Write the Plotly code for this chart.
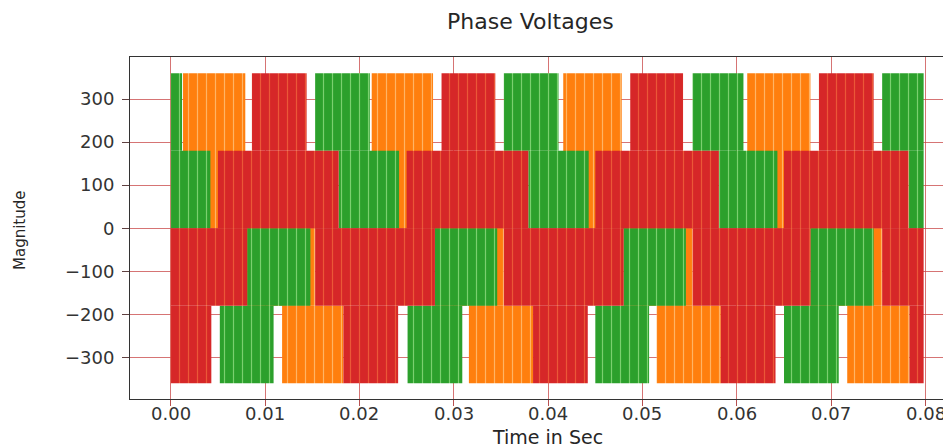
import plotly.graph_objects as go

# ---- data (time in s, voltage in V) ----
# each phase = list of PWM bands: start time, end time, lower level, upper level
orange_start = [0.0013, 0.0213, 0.0416, 0.0611,
                0.0081, 0.0280, 0.0480, 0.0678,
                0.0118, 0.0316, 0.0515, 0.0717]
orange_end   = [0.0079, 0.0278, 0.0478, 0.0678,
                0.0153, 0.0353, 0.0553, 0.0754,
                0.0183, 0.0384, 0.0583, 0.0783]
orange_low   = [0, 0, 0, 0,
                -180, -180, -180, -180,
                -360, -360, -360, -360]
orange_high  = [360, 360, 360, 360,
                0, 0, 0, 0,
                -180, -180, -180, -180]

green_start = [0.0000, 0.0153, 0.0353, 0.0553, 0.0754,
               0.0000, 0.0178, 0.0379, 0.0581, 0.0782,
               0.0081, 0.0280, 0.0480, 0.0678,
               0.0052, 0.0251, 0.0450, 0.0650]
green_end   = [0.0012, 0.0211, 0.0411, 0.0607, 0.0798,
               0.0042, 0.0242, 0.0443, 0.0643, 0.0798,
               0.0148, 0.0346, 0.0546, 0.0745,
               0.0109, 0.0309, 0.0507, 0.0708]
green_low   = [180, 180, 180, 180, 180,
               0, 0, 0, 0, 0,
               -180, -180, -180, -180,
               -360, -360, -360, -360]
green_high  = [360, 360, 360, 360, 360,
               180, 180, 180, 180, 180,
               0, 0, 0, 0,
               -180, -180, -180, -180]

red_start = [0.0086, 0.0287, 0.0487, 0.0687,
             0.0050, 0.0250, 0.0450, 0.0650,
             0.0000, 0.0153, 0.0353, 0.0553, 0.0754,
             0.0000, 0.0183, 0.0384, 0.0583, 0.0783]
red_end   = [0.0144, 0.0344, 0.0543, 0.0745,
             0.0178, 0.0379, 0.0581, 0.0782,
             0.0081, 0.0280, 0.0480, 0.0678, 0.0798,
             0.0043, 0.0241, 0.0442, 0.0641, 0.0798]
red_low   = [180, 180, 180, 180,
             0, 0, 0, 0,
             -180, -180, -180, -180, -180,
             -360, -360, -360, -360, -360]
red_high  = [360, 360, 360, 360,
             180, 180, 180, 180,
             0, 0, 0, 0, 0,
             -180, -180, -180, -180, -180]

x_ticks = [0.00, 0.01, 0.02, 0.03, 0.04, 0.05, 0.06, 0.07, 0.08]
y_ticks = [-300, -200, -100, 0, 100, 200, 300]

# name, fill colour, switching-streak colour
phases = [
    ("Phase A", "#ff7f0e", "#ffc27a", orange_start, orange_end, orange_low, orange_high),
    ("Phase B", "#2ca02c", "#8fdc7f", green_start, green_end, green_low, green_high),
    ("Phase C", "#d62728", "#f0643a", red_start, red_end, red_low, red_high),
]

fig = go.Figure()
for name, color, streak, s, e, lo, hi in phases:
    fig.add_trace(go.Bar(
        name=name,
        x=[(a + b) / 2 for a, b in zip(s, e)],
        width=[b - a for a, b in zip(s, e)],
        base=lo,
        y=[h - l for h, l in zip(hi, lo)],
        marker=dict(color=color, line=dict(width=0),
                    pattern=dict(shape="|", fgcolor=streak, bgcolor=color,
                                 size=9, solidity=0.13, fgopacity=0.8,
                                 fillmode="replace")),
        showlegend=False,
    ))

# the page body has an 8 px default margin, so the figure is drawn 8 px in
OFF = 8
W, H = 951 - OFF, 448 - OFF
L, R, T, B = 130 - OFF, 0, 57 - OFF, H - (399 - OFF)
fig.update_layout(
    width=W, height=H,
    margin=dict(l=L, r=R, t=T, b=B, autoexpand=False),
    barmode="overlay",
    paper_bgcolor="white",
    plot_bgcolor="white",
    font=dict(family="DejaVu Sans", color="#262626"),
)
fig.update_xaxes(
    range=[-0.00432, 0.0827],
    tickvals=x_ticks,
    showticklabels=False,
    showgrid=True, gridcolor="rgba(200,70,70,0.75)", gridwidth=1,
    zeroline=False, automargin=False,
    showline=True, linecolor="#333333", linewidth=1, mirror=True,
    ticks="outside", ticklen=6, tickcolor="#b85050",
)
fig.update_yaxes(
    range=[-396.7, 397.7],
    tickvals=y_ticks,
    tickfont=dict(size=18, color="#333333"),
    showgrid=True, gridcolor="rgba(200,70,70,0.75)", gridwidth=1,
    zeroline=False, automargin=False,
    showline=True, linecolor="#333333", linewidth=1, mirror=True,
    ticks="outside", ticklen=7, tickcolor="#604040",
    ticklabelstandoff=4,
)

pw = W - L - R
ph = H - T - B
def px(xp):
    return (xp - OFF - L) / pw
def py(yp):
    return (H - B - (yp - OFF)) / ph

# x tick labels, placed on the x axis scale
for v in x_ticks:
    fig.add_annotation(text=f"{v:.2f}", x=v, xref="x", y=py(414), yref="paper",
                       showarrow=False, xanchor="center", yanchor="middle",
                       font=dict(size=18, color="#333333"))

fig.add_annotation(text="Phase Voltages", x=px(530), y=py(22), xref="paper", yref="paper",
                   showarrow=False, xanchor="center", yanchor="middle",
                   font=dict(size=22, color="#262626"))
fig.add_annotation(text="Time in Sec", x=px(547), y=py(437), xref="paper", yref="paper",
                   showarrow=False, xanchor="center", yanchor="middle",
                   font=dict(size=19, color="#262626"))
fig.add_annotation(text="Magnitude", x=px(20), y=py(231), xref="paper", yref="paper",
                   showarrow=False, xanchor="center", yanchor="middle", textangle=-90,
                   font=dict(size=15, color="#262626"))

fig.write_html("out.html")
